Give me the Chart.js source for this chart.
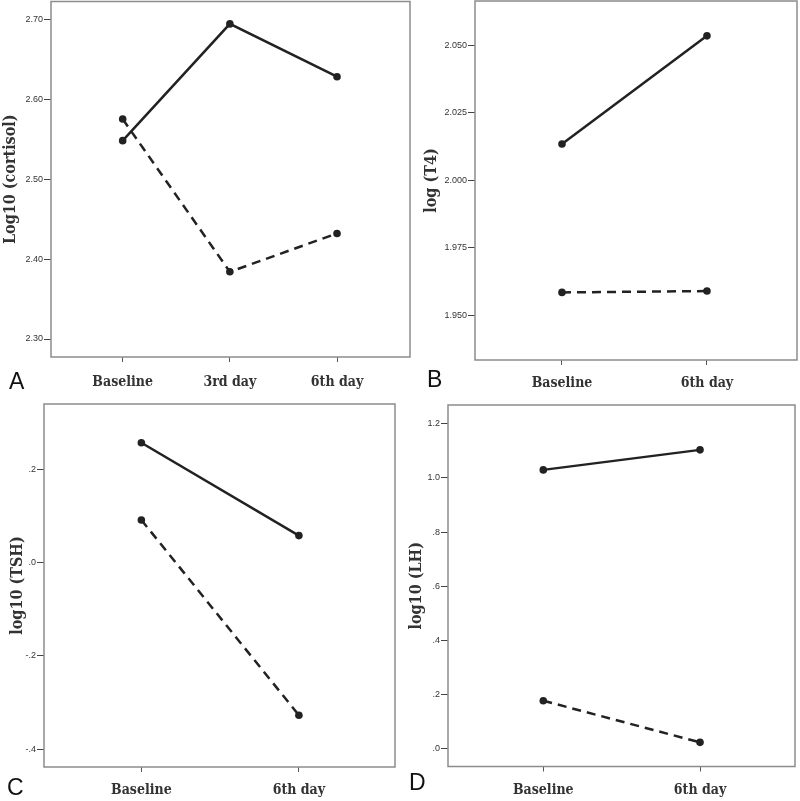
<!DOCTYPE html>
<html>
<head>
<meta charset="utf-8">
<script src="https://cdn.jsdelivr.net/npm/chart.js@4/dist/chart.umd.min.js"></script>
<style>
  html, body { margin: 0; padding: 0; background: #fff; }
  #wrap { position: relative; width: 800px; height: 801px; overflow: hidden; }
  canvas { position: absolute; }
</style>
</head>
<body>
<div id="wrap">
  <canvas id="chartA" width="415" height="400" style="left:0;top:0"></canvas>
  <canvas id="chartB" width="385" height="400" style="left:415px;top:0"></canvas>
  <canvas id="chartC" width="400" height="401" style="left:0;top:400px"></canvas>
  <canvas id="chartD" width="400" height="401" style="left:400px;top:400px"></canvas>
</div>
<script>
// Panel A - cortisol
const catsA = ['Baseline', '3rd day', '6th day'];
const cortisolSolid = [2.548, 2.694, 2.628];
const cortisolDashed = [2.575, 2.384, 2.432];
const ticksA = [2.30, 2.40, 2.50, 2.60, 2.70];
const tickLabelsA = ['2.30', '2.40', '2.50', '2.60', '2.70'];

// Panel B - T4
const catsB = ['Baseline', '6th day'];
const t4Solid = [2.0134, 2.0534];
const t4Dashed = [1.9585, 1.9590];
const ticksB = [1.950, 1.975, 2.000, 2.025, 2.050];
const tickLabelsB = ['1.950', '1.975', '2.000', '2.025', '2.050'];

// Panel C - TSH
const catsC = ['Baseline', '6th day'];
const tshSolid = [0.257, 0.058];
const tshDashed = [0.0915, -0.327];
const ticksC = [-0.4, -0.2, 0, 0.2];
const tickLabelsC = ['-.4', '-.2', '.0', '.2'];

// Panel D - LH
const catsD = ['Baseline', '6th day'];
const lhSolid = [1.030, 1.104];
const lhDashed = [0.176, 0.022];
const ticksD = [0, 0.2, 0.4, 0.6, 0.8, 1.0, 1.2];
const tickLabelsD = ['.0', '.2', '.4', '.6', '.8', '1.0', '1.2'];

const serif = '"DejaVu Serif Condensed", "DejaVu Serif", serif';

// draws the grey frame around the plot and the panel letter
const boxPlugin = {
  id: 'box',
  afterDraw(chart, args, opts) {
    const { ctx, chartArea: a } = chart;
    ctx.save();
    ctx.strokeStyle = '#8c8c8c';
    ctx.lineWidth = 1.5;
    ctx.strokeRect(a.left, a.top, a.right - a.left, a.bottom - a.top);
    ctx.fillStyle = '#111';
    ctx.font = '23px "Liberation Sans"';
    ctx.textBaseline = 'alphabetic';
    ctx.fillText(opts.letter, opts.lx, opts.ly);
    ctx.restore();
  }
};

function makePanel(id, p) {
  const toPts = vals => vals.map((v, i) => ({ x: i, y: v }));
  const line = {
    borderColor: '#222',
    backgroundColor: '#222',
    borderWidth: 2.5,
    pointRadius: 3.8,
    pointBackgroundColor: '#222',
    pointBorderWidth: 0,
    tension: 0
  };
  new Chart(document.getElementById(id), {
    type: 'line',
    data: {
      datasets: [
        Object.assign({ data: toPts(p.solid) }, line),
        Object.assign({ data: toPts(p.dashed), borderDash: [9, 6] }, line)
      ]
    },
    options: {
      responsive: false,
      animation: false,
      events: [],
      layout: { autoPadding: false, padding: { top: p.padTop, right: p.padRight, left: 0, bottom: 0 } },
      plugins: {
        legend: { display: false },
        tooltip: { enabled: false },
        box: { letter: p.letter, lx: p.lx, ly: p.ly }
      },
      scales: {
        x: {
          type: 'linear',
          min: p.xMin,
          max: p.xMax,
          afterBuildTicks: s => { s.ticks = p.cats.map((c, i) => ({ value: i })); },
          afterFit: s => { s.height = p.xHeight; s.paddingLeft = 0; s.paddingRight = 0; },
          grid: { drawOnChartArea: false, drawTicks: true, tickLength: 5, color: '#555', lineWidth: 1 },
          border: { display: false },
          ticks: {
            callback: (v, i) => p.cats[i],
            font: { family: serif, size: 14, weight: 'bold' },
            color: '#333',
            padding: p.xPad,
            maxRotation: 0,
            autoSkip: false
          }
        },
        y: {
          min: p.yMin,
          max: p.yMax,
          afterBuildTicks: s => { s.ticks = p.ticks.map(v => ({ value: v })); },
          afterFit: s => { s.width = p.yWidth; s.paddingTop = 0; s.paddingBottom = 0; },
          grid: { drawOnChartArea: false, drawTicks: true, tickLength: 7, color: '#444', lineWidth: 1 },
          border: { display: false },
          ticks: {
            callback: (v, i) => p.tickLabels[i],
            font: { family: 'Liberation Sans', size: 9 },
            color: '#333',
            padding: 1
          },
          title: {
            display: true,
            text: p.title,
            font: { family: serif, size: 16, weight: 'bold' },
            color: '#333',
            padding: { top: p.titlePad, bottom: 0 }
          }
        }
      }
    },
    plugins: [boxPlugin]
  });
}

makePanel('chartA', {
  cats: catsA, solid: cortisolSolid, dashed: cortisolDashed,
  ticks: ticksA, tickLabels: tickLabelsA, title: 'Log10 (cortisol)',
  xMin: -0.669, xMax: 2.681, yMin: 2.2775, yMax: 2.722,
  yWidth: 51, xHeight: 43, padTop: 1.5, padRight: 5, titlePad: 1, xPad: 12,
  letter: 'A', lx: 9, ly: 389
});

makePanel('chartB', {
  cats: catsB, solid: t4Solid, dashed: t4Dashed,
  ticks: ticksB, tickLabels: tickLabelsB, title: 'log (T4)',
  xMin: -0.6, xMax: 1.621, yMin: 1.9335, yMax: 2.0663,
  yWidth: 60, xHeight: 40, padTop: 1, padRight: 3, titlePad: 7, xPad: 10,
  letter: 'B', lx: 12, ly: 387
});

makePanel('chartC', {
  cats: catsC, solid: tshSolid, dashed: tshDashed,
  ticks: ticksC, tickLabels: tickLabelsC, title: 'log10 (TSH)',
  xMin: -0.618, xMax: 1.61, yMin: -0.438, yMax: 0.340,
  yWidth: 44, xHeight: 34, padTop: 4, padRight: 5, titlePad: 8, xPad: 10,
  letter: 'C', lx: 7, ly: 395
});

makePanel('chartD', {
  cats: catsD, solid: lhSolid, dashed: lhDashed,
  ticks: ticksD, tickLabels: tickLabelsD, title: 'log10 (LH)',
  xMin: -0.608, xMax: 1.606, yMin: -0.0673, yMax: 1.270,
  yWidth: 48, xHeight: 34.5, padTop: 5, padRight: 5, titlePad: 7, xPad: 10,
  letter: 'D', lx: 9, ly: 390
});
</script>
</body>
</html>
